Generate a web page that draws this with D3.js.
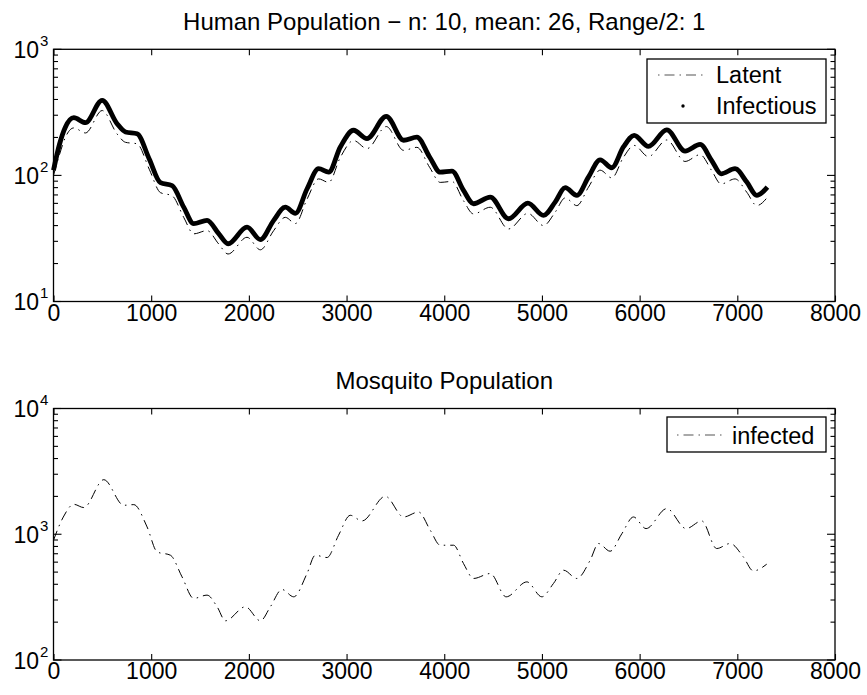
<!DOCTYPE html>
<html><head><meta charset="utf-8">
<script src="https://cdn.jsdelivr.net/npm/d3@7"></script>
<style>
body{margin:0;background:#fff}
text{font-family:"Liberation Sans",Arial,Helvetica,sans-serif;fill:#000}
</style>
</head><body>
<svg id="c" width="867" height="695"></svg>
<script>
// ---- data ----
const humanDays = [0,60,120,208,327,498,651,737,856,980,1095,1214,1333,1435,1572,1691,1787,1981,2118,2254,2373,2476,2595,2714,2817,2936,3072,3209,3407,3584,3720,3850,3959,4079,4197,4300,4471,4658,4856,5016,5135,5238,5357,5476,5596,5715,5834,5944,6090,6278,6465,6619,6738,6834,6977,7097,7199,7308];
const infectious = [110,175,240,287,262,394,257,221,214,135,87.5,83,56,41.4,44,34.5,28.7,38.9,31,44,56,50,78,113,106,168,228,196,294,190,201,140,106,108,76,59.6,67.3,45.3,60.3,48.2,61.4,79.9,69.4,97,133,115,168,208,170,230,156,176,131,103,113,88.5,69.4,80.7];
const latent = [100,145,199,238,217,327,213,183,178,112,73,69,46.5,34.4,36.5,28.6,23.8,32.3,25.7,36.5,46.5,41.5,64.7,93.8,88,139,189,163,244,158,167,116,88,89.6,63,49.5,55.9,37.6,50,40,51,66.3,57.6,80.5,110,95.5,139,173,141,191,129,146,109,85.5,93.8,73.5,57.6,67];
const mosqDays = [0,100,208,310,515,719,822,958,1061,1197,1316,1435,1572,1675,1760,1964,2118,2220,2339,2459,2595,2680,2800,2918,3038,3158,3397,3584,3737,3857,3959,4096,4197,4300,4471,4634,4846,4999,5118,5221,5357,5494,5579,5698,5818,5937,6066,6278,6476,6636,6789,6926,7062,7164,7301];
const mosqInfected = [896,1370,1730,1630,2716,1700,1720,1143,724,681,458,309,328,265,205,265,205,265,364,318,487,681,653,982,1415,1276,2004,1372,1503,1076,818,818,585,445,487,318,418,318,406,518,445,622,844,733,1010,1372,1109,1600,1109,1276,770,844,660,511,578];
const xTicks = [0,1000,2000,3000,4000,5000,6000,7000,8000];
const humanDecades = [1,2,3];
const mosqDecades = [2,3,4];
const humanTitle = "Human Population \u2212 n: 10, mean: 26, Range/2: 1";
const mosqTitle = "Mosquito Population";
const humanLegend = ["Latent","Infectious"];
const mosqLegend = ["infected"];

// ---- layout ----
const svg = d3.select("#c");
const L = 53.5, R = 835;
const panels = [
  {top:49.3, bottom:301.5, decades:humanDecades, title:humanTitle},
  {top:408.5, bottom:660, decades:mosqDecades, title:mosqTitle}
];
const x = d3.scaleLinear().domain([0,8000]).range([L,R]);
const dashDot = "10,5,1.5,5";

function drawPanel(p){
  const lo = p.decades[0], hi = p.decades[p.decades.length-1];
  const y = d3.scaleLog().domain([Math.pow(10,lo),Math.pow(10,hi)]).range([p.bottom,p.top]);
  p.y = y;
  const g = svg.append("g");
  g.append("rect").attr("x",L).attr("y",p.top).attr("width",R-L).attr("height",p.bottom-p.top)
    .attr("fill","none").attr("stroke","#000").attr("stroke-width",1.3);
  const axB = d3.axisBottom(x).tickValues(xTicks).tickSize(-6).tickFormat(d=>d);
  const gb = g.append("g").attr("transform",`translate(0,${p.bottom})`).call(axB);
  gb.select(".domain").remove();
  gb.selectAll(".tick line").attr("stroke","#000").attr("stroke-width",1.1);
  gb.selectAll(".tick text").attr("y",19).attr("dy",null).style("font-size","23px")
    .style("font-family",'"Liberation Sans",Arial,sans-serif').attr("fill","#000");
  const axT = d3.axisTop(x).tickValues(xTicks).tickSize(-6).tickFormat("");
  const gt = g.append("g").attr("transform",`translate(0,${p.top})`).call(axT);
  gt.select(".domain").remove();
  gt.selectAll(".tick line").attr("stroke","#000").attr("stroke-width",1.1);
  const minor = [];
  for(let d=lo; d<hi; d++) for(let k=2;k<=9;k++) minor.push(k*Math.pow(10,d));
  const major = p.decades.map(d=>Math.pow(10,d));
  [[L,1],[R,-1]].forEach(([x0,s])=>{
    g.selectAll(null).data(minor).enter().append("line")
      .attr("x1",x0).attr("x2",x0+s*4.5).attr("y1",d=>y(d)).attr("y2",d=>y(d))
      .attr("stroke","#000").attr("stroke-width",1.1);
    g.selectAll(null).data(major).enter().append("line")
      .attr("x1",x0).attr("x2",x0+s*8).attr("y1",d=>y(d)).attr("y2",d=>y(d))
      .attr("stroke","#000").attr("stroke-width",1.1);
  });
  p.decades.forEach(d=>{
    const yy = y(Math.pow(10,d));
    g.append("text").attr("x",39).attr("y",yy+8.5).attr("text-anchor","end")
      .style("font-size","23px").text("10");
    g.append("text").attr("x",40).attr("y",yy-3.5)
      .style("font-size","15px").text(String(d));
  });
  g.append("text").attr("x",(L+R)/2).attr("y",p.top-19.5).attr("text-anchor","middle")
    .style("font-size","24px").text(p.title);
}
panels.forEach(drawPanel);

// ---- series ----
const yH = panels[0].y, yM = panels[1].y;
const lineH = d3.line().x(d=>x(d[0])).y(d=>yH(d[1])).curve(d3.curveMonotoneX);
const lineM = d3.line().x(d=>x(d[0])).y(d=>yM(d[1])).curve(d3.curveMonotoneX);
svg.append("path").datum(d3.zip(humanDays,latent)).attr("d",lineH)
  .attr("fill","none").attr("stroke","#000").attr("stroke-width",1).attr("stroke-dasharray",dashDot);
svg.append("path").datum(d3.zip(humanDays,infectious)).attr("d",lineH)
  .attr("fill","none").attr("stroke","#000").attr("stroke-width",4.8).attr("stroke-linejoin","round");
svg.append("path").datum(d3.zip(mosqDays,mosqInfected)).attr("d",lineM)
  .attr("fill","none").attr("stroke","#000").attr("stroke-width",1).attr("stroke-dasharray",dashDot);

// ---- legends ----
const lg1 = svg.append("g");
lg1.append("rect").attr("x",647).attr("y",59).attr("width",179).attr("height",64)
  .attr("fill","#fff").attr("stroke","#000").attr("stroke-width",1.3);
lg1.append("line").attr("x1",658).attr("x2",703).attr("y1",75).attr("y2",75)
  .attr("stroke","#555").attr("stroke-width",1.2).attr("stroke-dasharray","1.5,5,10,5");
lg1.append("text").attr("x",716).attr("y",83).style("font-size","23.5px").text(humanLegend[0]);
lg1.append("circle").attr("cx",683).attr("cy",106).attr("r",1.7).attr("fill","#000");
lg1.append("text").attr("x",716).attr("y",113.5).style("font-size","23.5px").text(humanLegend[1]);

const lg2 = svg.append("g");
lg2.append("rect").attr("x",667).attr("y",417).attr("width",159).attr("height",35)
  .attr("fill","#fff").attr("stroke","#000").attr("stroke-width",1.3);
lg2.append("line").attr("x1",677).attr("x2",722).attr("y1",435).attr("y2",435)
  .attr("stroke","#555").attr("stroke-width",1.2).attr("stroke-dasharray","1.5,5,10,5");
lg2.append("text").attr("x",732).attr("y",443.5).style("font-size","23.5px").text(mosqLegend[0]);
</script>
</body></html>
